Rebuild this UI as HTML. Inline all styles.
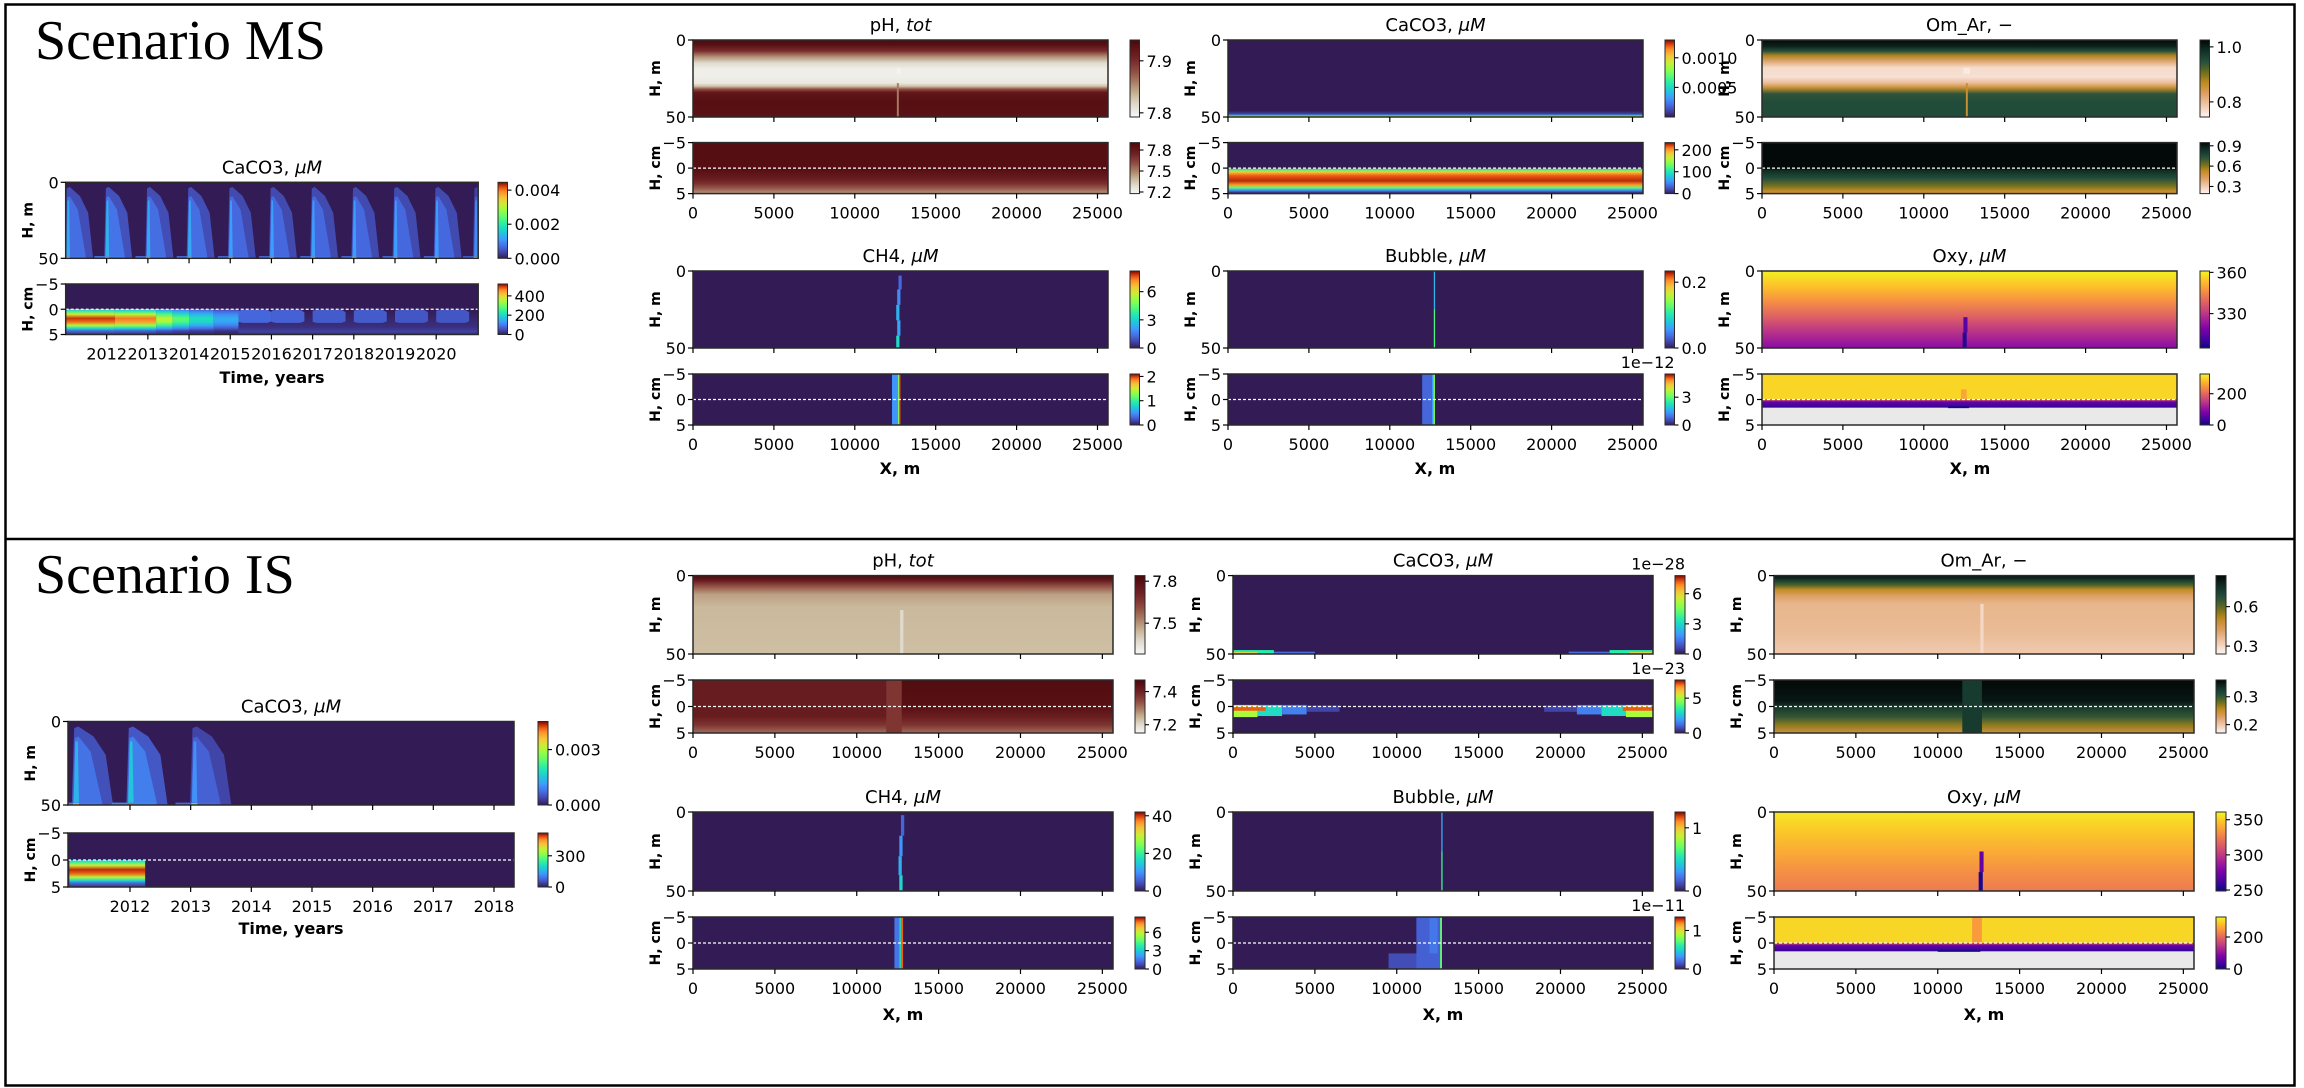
<!DOCTYPE html>
<html><head><meta charset="utf-8"><title>Scenario MS / IS</title>
<style>body{margin:0;background:#fff}svg{display:block}text{font-family:"DejaVu Sans","Liberation Sans",sans-serif}</style></head>
<body>
<svg id="fig" xmlns="http://www.w3.org/2000/svg" width="2304" height="1088" viewBox="0 0 2304 1088">
<rect x="0" y="0" width="2304" height="1088" fill="#fff"/>
<rect x="5.5" y="4.5" width="2289" height="1081" fill="none" stroke="#000" stroke-width="2.5"/>
<line x1="5" y1="539" x2="2295" y2="539" stroke="#000" stroke-width="2.5"/>
<text x="35" y="59" font-size="56" style="font-family:'Liberation Serif',serif">Scenario MS</text>
<text x="35" y="593" font-size="56" style="font-family:'Liberation Serif',serif">Scenario IS</text>
</svg>
<script>
// ---------------- data ----------------
const spatialTicks=[0,5000,10000,15000,20000,25000];
const msYears=[2012,2013,2014,2015,2016,2017,2018,2019,2020];
const isYears=[2012,2013,2014,2015,2016,2017,2018];
// MS left CaCO3 time series
const msPeakYears=[2011.05,2012.0,2013.0,2014.0,2015.0,2016.0,2017.0,2018.0,2019.0,2020.0,2020.95];
const msPeakAmp=[0.0013,0.0014,0.0013,0.0013,0.0012,0.0012,0.0012,0.0012,0.0012,0.0012,0.0010];
const msSedT0=[2011.0,2012.2,2013.2,2013.6,2014.0,2014.6];
const msSedT1=[2012.2,2013.2,2013.6,2014.0,2014.6,2015.2];
const msSedVal=[500,470,360,280,210,150];
const msSedBumpYears=[2015.2,2016.0,2017.0,2018.0,2019.0,2020.0];
const msSedBumpVal=[75,70,65,65,60,60];
const sedProfDepth=[-0.05,0,0.4,1,1.8,2.5,3.2,3.8,4.3,5];
const sedProfFrac=[0,0.3,0.5,0.75,1,0.95,0.7,0.4,0.15,0.05];
// IS left CaCO3
const isPeakYears=[2011.1,2012.0,2013.05];
const isPeakAmp=[0.0014,0.0016,0.0011];
const isSedT0=[2011.0];const isSedT1=[2012.25];const isSedVal=[500];
// MS spatial fields
const msPhWDepth=[0,3,7,11,15,19,24,28,30,32,34,40,50];
const msPhWVal=[7.935,7.93,7.90,7.85,7.815,7.80,7.80,7.805,7.83,7.88,7.92,7.93,7.925];
const msPhSDepth=[-5,0,1,2,3,4,5];
const msPhSVal=[7.86,7.86,7.83,7.78,7.70,7.58,7.45];
const msCaWDepth=[0,46,48,49,49.5,50];
const msCaWVal=[0,0,0.0001,0.0004,0.0008,0.0011];
const msCaSDepth=[-5,0,0.3,0.8,1.5,2.5,3.3,3.8,4.3,4.8,5];
const msCaSVal=[0,0,120,185,215,225,200,130,60,10,0];
const msOmWDepth=[0,4,7,10,14,18,24,28,31,35,40,50];
const msOmWVal=[1.02,1.0,0.95,0.88,0.82,0.77,0.765,0.80,0.86,0.94,0.95,0.95];
const msOmSDepth=[-5,0,0.5,2,3.5,4.5,5];
const msOmSVal=[0.94,0.94,0.85,0.74,0.62,0.52,0.48];
const msCh4WDepth=[0,50];const msCh4WVal=[0,0];
const msCh4WRects=[[12700,12900,3,12,1.2],[12620,12820,12,22,1.8],[12560,12760,22,32,2.4],[12620,12820,32,42,2.2],[12560,12760,42,50,3.2]];
const msCh4SDepth=[-5,5];const msCh4SVal=[0,0];
const msCh4SRects=[[12300,12650,-5,5,0.5],[12650,12700,-5,5,1.0],[12700,12750,-5,5,1.5],[12750,12830,-5,5,2.0]];
const msBubWDepth=[0,50];const msBubWVal=[0,0];
const msBubWRects=[[12720,12800,0,25,0.07],[12720,12800,25,50,0.12]];
const msBubSDepth=[-5,5];const msBubSVal=[0,0];
const msBubSRects=[[12000,12600,-5,5,0.8],[12600,12700,-5,5,1.4],[12700,12790,-5,5,3.3]];
const msOxWDepth=[0,10,20,30,40,50];
const msOxWVal=[360,354,346,338,329,321];
const msOxWRects=[[12450,12700,30,40,314],[12400,12650,40,50,308]];
const msOxSDepth=[-5,-0.1,0,0.5,1.5];
const msOxSVal=[300,300,180,60,30];
const msOxSRects=[[0,25650,1.6,5,null]];
// IS spatial fields
const isPhWDepth=[0,3,7,12,20,50];
const isPhWVal=[7.83,7.75,7.60,7.48,7.44,7.43];
const isPhWRects=[[12650,12850,22,50,7.37]];
const isPhSDepth=[-5,0,2,3.5,5];
const isPhSVal=[7.455,7.445,7.41,7.37,7.31];
const isPhSRects=[[0,11800,-5,1.5,7.415],[11800,12750,-5,5,7.37]];
const isCaWDepth=[0,50];const isCaWVal=[0,0];
const isCaWRects=[[0,2500,47.5,50,3.5],[0,1500,48.8,50,6],[2500,5000,48.5,50,1.2],[20500,23000,48.5,50,1.2],[23000,25650,47.5,50,3.5],[24200,25650,48.8,50,6]];
const isCaSDepth=[-5,5];const isCaSVal=[0,0];
const isCaSRects=[[0,1500,-0.3,2,5],[1500,3000,-0.3,1.8,3],[3000,4500,-0.3,1.5,1.5],[4500,6500,-0.2,1,0.6],[0,2000,0,0.8,7],[19000,21000,-0.2,1,0.6],[21000,22500,-0.3,1.5,1.5],[22500,24000,-0.3,1.8,3],[24000,25650,-0.3,2,5],[23800,25650,0,0.8,7]];
const isOmWDepth=[0,3,6,9,13,18,35,50];
const isOmWVal=[0.82,0.72,0.62,0.50,0.42,0.37,0.36,0.33];
const isOmWRects=[[12600,12800,18,50,0.30]];
const isOmSDepth=[-5,-1,0,2,3.5,5];
const isOmSVal=[0.358,0.35,0.33,0.30,0.27,0.245];
const isOmSRects=[[11500,12700,-5,5,0.325]];
const isCh4WDepth=[0,50];const isCh4WVal=[0,0];
const isCh4WRects=[[12700,12900,2,15,6],[12600,12800,15,28,10],[12550,12750,28,40,12],[12600,12800,40,50,16]];
const isCh4SDepth=[-5,5];const isCh4SVal=[0,0];
const isCh4SRects=[[12300,12600,-5,5,1.5],[12600,12700,-5,5,3.5],[12700,12830,-5,5,7.8]];
const isBubWDepth=[0,50];const isBubWVal=[0,0];
const isBubWRects=[[12720,12800,0,25,0.35],[12720,12800,25,50,0.6]];
const isBubSDepth=[-5,5];const isBubSVal=[0,0];
const isBubSRects=[[9500,12700,2,5,0.13],[11200,12700,-5,5,0.18],[12000,12500,-5,2,0.24],[12650,12760,-5,5,0.75]];
const isOxWDepth=[0,10,25,40,50];
const isOxWVal=[357,350,340,330,325];
const isOxWRects=[[12550,12800,25,38,270],[12500,12750,38,50,252]];
const isOxSDepth=[-5,-0.1,0,0.5,1.5];
const isOxSVal=[300,300,180,60,30];
const isOxSRects=[[0,25650,1.6,5,null]];

// ---------------- colormaps ----------------
const TURBO=[[0,'#331b55'],[0.07,'#4040a0'],[0.15,'#4669e0'],[0.25,'#3e9bfe'],[0.35,'#1ccdd6'],[0.45,'#28ecaa'],[0.55,'#64fd6a'],[0.65,'#a6fc3c'],[0.72,'#d2e935'],[0.8,'#f7c23a'],[0.88,'#fb8d29'],[0.94,'#e5460b'],[1,'#7a0403']];
const PLASMA=[[0,'#0d0887'],[0.13,'#4b03a1'],[0.25,'#7d03a8'],[0.38,'#a82296'],[0.5,'#cb4679'],[0.63,'#e56b5d'],[0.75,'#f89441'],[0.88,'#fdc328'],[1,'#f0f921']];
const PHC=[[0,'#f7f7f5'],[0.15,'#e2ddd2'],[0.3,'#c8b596'],[0.45,'#a87e66'],[0.6,'#8f4a40'],[0.75,'#742628'],[0.9,'#5c1216'],[1,'#4a080a']];
const OMC=[[0,'#fdf5f2'],[0.15,'#f0c9ae'],[0.3,'#dda066'],[0.45,'#c08a1e'],[0.6,'#5e6a22'],[0.72,'#244f3c'],[0.85,'#123429'],[1,'#020606']];
function hx(c){return [parseInt(c.slice(1,3),16),parseInt(c.slice(3,5),16),parseInt(c.slice(5,7),16)];}
function cm(stops){return function(t){t=Math.max(0,Math.min(1,t));let i=0;while(i<stops.length-2&&t>stops[i+1][0])i++;const a=stops[i],b=stops[i+1];const f=(t-a[0])/(b[0]-a[0]);const A=hx(a[1]),B=hx(b[1]);return 'rgb('+A.map((v,k)=>Math.round(v+(B[k]-v)*f)).join(',')+')';};}
const turbo=cm(TURBO),plasma=cm(PLASMA),phc=cm(PHC),omc=cm(OMC);

// ---------------- helpers ----------------
const svg=document.getElementById('fig');
const NS='http://www.w3.org/2000/svg';
let uid=0;
let defs=document.createElementNS(NS,'defs');svg.appendChild(defs);
function mk(tag,attrs,parent,name){const e=document.createElementNS(NS,tag);for(const k in attrs)e.setAttribute(k,attrs[k]);


(parent||svg).appendChild(e);return e;}
function txt(parent,x,y,s,size,anchor,name,extra){const t=mk('text',Object.assign({x:x,y:y,'font-size':size,'text-anchor':anchor||'start'},extra||{}),parent,name);t.textContent=s;return t;}
function vgrad(y0,h,depths,vals,sy,col){const id='g'+(uid++);const lg=document.createElementNS(NS,'linearGradient');lg.setAttribute('id',id);lg.setAttribute('gradientUnits','userSpaceOnUse');lg.setAttribute('x1',0);lg.setAttribute('x2',0);lg.setAttribute('y1',y0);lg.setAttribute('y2',y0+h);
const st=depths.map((d,i)=>[Math.max(0,Math.min(1,(sy(d)-y0)/h)),col(vals[i])]).sort((a,b)=>a[0]-b[0]);
st.forEach(p=>{const s=document.createElementNS(NS,'stop');s.setAttribute('offset',p[0]);s.setAttribute('stop-color',p[1]);lg.appendChild(s);});defs.appendChild(lg);return 'url(#'+id+')';}

function block(P){
  const g=mk('g',{},svg,P.name);
  const sx=v=>P.x+(v-P.xd[0])/(P.xd[1]-P.xd[0])*P.w;
  const sy=d=>P.y+(d-P.yd[0])/(P.yd[1]-P.yd[0])*P.h;
  const col=v=>v===null?'#e9e9e9':P.cmap((v-P.cd[0])/(P.cd[1]-P.cd[0]));
  const cid='c'+(uid++);const cp=document.createElementNS(NS,'clipPath');cp.setAttribute('id',cid);const cr=document.createElementNS(NS,'rect');cr.setAttribute('x',P.x);cr.setAttribute('y',P.y);cr.setAttribute('width',P.w);cr.setAttribute('height',P.h);cp.appendChild(cr);defs.appendChild(cp);
  const f=mk('g',{'clip-path':'url(#'+cid+')'},g,P.name+'-field');
  mk('rect',{x:P.x,y:P.y,width:P.w,height:P.h,fill:vgrad(P.y,P.h,P.depth,P.vals,sy,col)},f,'field-background');
  (P.vgs||[]).forEach(v=>{mk('rect',{x:sx(v[0]),y:P.y,width:sx(v[1])-sx(v[0]),height:P.h,fill:vgrad(P.y,P.h,v[2],v[3],sy,col)},f,'field-band');});
  (P.polys||[]).forEach(p=>{mk('polygon',{points:p[0].map(q=>sx(q[0])+','+sy(q[1])).join(' '),fill:col(p[1])},f,'field-contour');});
  (P.rects||[]).forEach(r=>{mk('rect',{x:sx(r[0]),y:sy(r[2]),width:Math.max(1.2,sx(r[1])-sx(r[0])),height:sy(r[3])-sy(r[2]),fill:col(r[4])},f,'field-cell');});
  if(P.kind==='sed') mk('line',{x1:P.x,x2:P.x+P.w,y1:sy(0),y2:sy(0),stroke:'#fff','stroke-width':1.3,'stroke-dasharray':'3,2'},g,'sediment-surface-line');
  mk('rect',{x:P.x,y:P.y,width:P.w,height:P.h,fill:'none',stroke:'#2a2a2a','stroke-width':1.5},g,'axes-frame');
  const yt=P.kind==='sed'?[-5,0,5]:[0,50];
  yt.forEach(v=>{mk('line',{x1:P.x-5,x2:P.x,y1:sy(v),y2:sy(v),stroke:'#000','stroke-width':1.2},g,'y-tick');txt(g,P.x-7,sy(v)+6,v<0?'\u2212'+(-v):String(v),16,'end','y-tick-label');});
  txt(g,0,0,P.kind==='sed'?'H, cm':'H, m',14,'middle','y-axis-title',{'font-weight':'bold',transform:'translate('+(P.x-33)+','+(P.y+P.h/2)+') rotate(-90)'});
  P.xt.forEach(v=>{mk('line',{x1:sx(v),x2:sx(v),y1:P.y+P.h,y2:P.y+P.h+5,stroke:'#000','stroke-width':1.2},g,'x-tick');if(P.xlab)txt(g,sx(v),P.y+P.h+25,String(v),16,'middle','x-tick-label');});
  if(P.title){const t=txt(g,P.x+P.w/2,P.y-9,P.title[0],18,'middle','panel-title');if(P.title[1]){const ts=document.createElementNS(NS,'tspan');ts.setAttribute('font-style','italic');ts.textContent=P.title[1];t.appendChild(ts);}}
  const cb=mk('g',{},svg,P.name+'-colorbar');
  const cbw=P.cbw||9.5;
  const cy=v=>P.y+P.h-(v-P.cd[0])/(P.cd[1]-P.cd[0])*P.h;
  const cvs=[];for(let i=0;i<=24;i++){cvs.push(P.cd[0]+(P.cd[1]-P.cd[0])*i/24);}
  mk('rect',{x:P.cbx,y:P.y,width:cbw,height:P.h,fill:vgrad(P.y,P.h,cvs,cvs,cy,col),stroke:'#2a2a2a','stroke-width':1},cb,'colorbar-gradient');
  P.ct.forEach((v,i)=>{mk('line',{x1:P.cbx+cbw,x2:P.cbx+cbw+4,y1:cy(v),y2:cy(v),stroke:'#000','stroke-width':1.1},cb,'colorbar-tick');txt(cb,P.cbx+cbw+7,cy(v)+6,P.cl[i],16,'start','colorbar-tick-label');});
  if(P.offset)txt(cb,P.cbx+cbw,P.y-6,P.offset,16,'end','colorbar-offset-label');
  return {sx,sy,g};
}
function peakPolys(years,amps){const out=[];years.forEach((t,i)=>{const a=amps[i];
 out.push([[[t-0.06,50],[t-0.02,4],[t+0.05,3],[t+0.3,9],[t+0.5,20],[t+0.62,50]],a*0.33]);
 out.push([[[t-0.04,50],[t-0.01,10],[t+0.05,9],[t+0.25,18],[t+0.45,50]],a*0.55]);
 out.push([[[t-0.03,50],[t,12],[t+0.04,12],[t+0.06,50]],a*0.95]);
 out.push([[[t-0.3,50],[t-0.3,48.6],[t+0.4,48.6],[t+0.4,50]],a*0.6]);
 out.push([[[t-0.04,50],[t-0.04,49],[t+0.06,49],[t+0.06,50]],a*2.6]);});return out;}
function sedBands(t0,t1,vals){return t0.map((t,i)=>[t,t1[i],[-5].concat(sedProfDepth),[0].concat(sedProfFrac.map(f=>f*vals[i]))]);}
function bumps(years,vals){return years.map((t,i)=>[[[t,0.3],[t+0.1,0.1],[t+0.7,0.1],[t+0.8,0.6],[t+0.8,2.4],[t+0.7,2.7],[t+0.1,2.7],[t,2.5]],vals[i]]);}

const XD=[0,25650];
// ---------------- MS ----------------
const MSX=[693,1228,1762],MSCB=[1130,1665,2200],MSW=415;
const msR=[[40,77,142.6,51],[271,77,374,51]];
function msBlock(o){return block(Object.assign({xd:XD,xt:spatialTicks,w:MSW},o));}
msBlock({name:'ms-ph-water',kind:'water',x:MSX[0],y:msR[0][0],h:msR[0][1],yd:[0,50],cmap:phc,cd:[7.792,7.94],depth:msPhWDepth,vals:msPhWVal,rects:[[12600,12850,18,22,7.795],[12600,12720,28,50,7.86]],cbx:MSCB[0],ct:[7.8,7.9],cl:['7.8','7.9'],title:['pH, ','tot']});
msBlock({name:'ms-ph-sediment',kind:'sed',x:MSX[0],y:msR[0][2],h:msR[0][3],yd:[-5,5],cmap:phc,cd:[7.177,7.906],depth:msPhSDepth,vals:msPhSVal,cbx:MSCB[0],ct:[7.2,7.5,7.8],cl:['7.2','7.5','7.8'],xlab:true});
msBlock({name:'ms-caco3-water',kind:'water',x:MSX[1],y:msR[0][0],h:msR[0][1],yd:[0,50],cmap:turbo,cd:[0,0.0013],depth:msCaWDepth,vals:msCaWVal,cbx:MSCB[1],ct:[0.0005,0.001],cl:['0.0005','0.0010'],title:['CaCO3, ','\u03bcM']});
msBlock({name:'ms-caco3-sediment',kind:'sed',x:MSX[1],y:msR[0][2],h:msR[0][3],yd:[-5,5],cmap:turbo,cd:[0,233],depth:msCaSDepth,vals:msCaSVal,cbx:MSCB[1],ct:[0,100,200],cl:['0','100','200'],xlab:true});
msBlock({name:'ms-omar-water',kind:'water',x:MSX[2],y:msR[0][0],h:msR[0][1],yd:[0,50],cmap:omc,cd:[0.745,1.025],depth:msOmWDepth,vals:msOmWVal,rects:[[12450,12850,18,22,0.755],[12600,12720,28,50,0.86]],cbx:MSCB[2],ct:[0.8,1.0],cl:['0.8','1.0'],title:['Om_Ar, \u2212']});
msBlock({name:'ms-omar-sediment',kind:'sed',x:MSX[2],y:msR[0][2],h:msR[0][3],yd:[-5,5],cmap:omc,cd:[0.195,0.947],depth:msOmSDepth,vals:msOmSVal,cbx:MSCB[2],ct:[0.3,0.6,0.9],cl:['0.3','0.6','0.9'],xlab:true});
msBlock({name:'ms-ch4-water',kind:'water',x:MSX[0],y:msR[1][0],h:msR[1][1],yd:[0,50],cmap:turbo,cd:[0,8.2],depth:msCh4WDepth,vals:msCh4WVal,rects:msCh4WRects,cbx:MSCB[0],ct:[0,3,6],cl:['0','3','6'],title:['CH4, ','\u03bcM']});
msBlock({name:'ms-ch4-sediment',kind:'sed',x:MSX[0],y:msR[1][2],h:msR[1][3],yd:[-5,5],cmap:turbo,cd:[0,2.1],depth:msCh4SDepth,vals:msCh4SVal,rects:msCh4SRects,cbx:MSCB[0],ct:[0,1,2],cl:['0','1','2'],xlab:true});
msBlock({name:'ms-bubble-water',kind:'water',x:MSX[1],y:msR[1][0],h:msR[1][1],yd:[0,50],cmap:turbo,cd:[0,0.234],depth:msBubWDepth,vals:msBubWVal,rects:msBubWRects,cbx:MSCB[1],ct:[0,0.2],cl:['0.0','0.2'],title:['Bubble, ','\u03bcM']});
msBlock({name:'ms-bubble-sediment',kind:'sed',x:MSX[1],y:msR[1][2],h:msR[1][3],yd:[-5,5],cmap:turbo,cd:[0,5.5],depth:msBubSDepth,vals:msBubSVal,rects:msBubSRects,cbx:MSCB[1],ct:[0,3],cl:['0','3'],xlab:true,offset:'1e\u221212'});
msBlock({name:'ms-oxy-water',kind:'water',x:MSX[2],y:msR[1][0],h:msR[1][1],yd:[0,50],cmap:plasma,cd:[305,361],depth:msOxWDepth,vals:msOxWVal,rects:msOxWRects,cbx:MSCB[2],ct:[330,360],cl:['330','360'],title:['Oxy, ','\u03bcM']});
msBlock({name:'ms-oxy-sediment',kind:'sed',x:MSX[2],y:msR[1][2],h:msR[1][3],yd:[-5,5],cmap:plasma,cd:[0,326],depth:msOxSDepth,vals:msOxSVal,rects:msOxSRects.concat([[12300,12650,-2,0,260],[11500,12800,1.3,1.7,10]]),cbx:MSCB[2],ct:[0,200],cl:['0','200'],xlab:true});
block({name:'ms-caco3-time-water',kind:'water',x:65.7,y:182.3,w:412.5,h:76,xd:[2011.005,2021.02],xt:msYears,yd:[0,50],cmap:turbo,cd:[0,0.00446],depth:[0,50],vals:[0,0],polys:peakPolys(msPeakYears,msPeakAmp),cbx:498,ct:[0,0.002,0.004],cl:['0.000','0.002','0.004'],title:['CaCO3, ','\u03bcM']});
block({name:'ms-caco3-time-sediment',kind:'sed',x:65.7,y:284,w:412.5,h:50.5,xd:[2011.005,2021.02],xt:msYears,yd:[-5,5],cmap:turbo,cd:[0,523],depth:[-5,0,3.5,4.5,5],vals:[0,0,20,40,10],vgs:sedBands(msSedT0,msSedT1,msSedVal),polys:bumps(msSedBumpYears,msSedBumpVal),cbx:498,ct:[0,200,400],cl:['0','200','400'],xlab:true});
// ---------------- IS ----------------
const ISX=[693,1233,1774],ISCB=[1135,1675,2216],ISW=420;
const isR=[[575.6,78.4,680,53],[812,79,917,52]];
function isBlock(o){return block(Object.assign({xd:XD,xt:spatialTicks,w:ISW,cbw:10},o));}
isBlock({name:'is-ph-water',kind:'water',x:ISX[0],y:isR[0][0],h:isR[0][1],yd:[0,50],cmap:phc,cd:[7.28,7.84],depth:isPhWDepth,vals:isPhWVal,rects:isPhWRects,cbx:ISCB[0],ct:[7.5,7.8],cl:['7.5','7.8'],title:['pH, ','tot']});
isBlock({name:'is-ph-sediment',kind:'sed',x:ISX[0],y:isR[0][2],h:isR[0][3],yd:[-5,5],cmap:phc,cd:[7.15,7.47],depth:isPhSDepth,vals:isPhSVal,rects:isPhSRects,cbx:ISCB[0],ct:[7.2,7.4],cl:['7.2','7.4'],xlab:true});
isBlock({name:'is-caco3-water',kind:'water',x:ISX[1],y:isR[0][0],h:isR[0][1],yd:[0,50],cmap:turbo,cd:[0,7.8],depth:isCaWDepth,vals:isCaWVal,rects:isCaWRects,cbx:ISCB[1],ct:[0,3,6],cl:['0','3','6'],title:['CaCO3, ','\u03bcM'],offset:'1e\u221228'});
isBlock({name:'is-caco3-sediment',kind:'sed',x:ISX[1],y:isR[0][2],h:isR[0][3],yd:[-5,5],cmap:turbo,cd:[0,7.6],depth:isCaSDepth,vals:isCaSVal,rects:isCaSRects,cbx:ISCB[1],ct:[0,5],cl:['0','5'],xlab:true,offset:'1e\u221223'});
isBlock({name:'is-omar-water',kind:'water',x:ISX[2],y:isR[0][0],h:isR[0][1],yd:[0,50],cmap:omc,cd:[0.24,0.836],depth:isOmWDepth,vals:isOmWVal,rects:isOmWRects,cbx:ISCB[2],ct:[0.3,0.6],cl:['0.3','0.6'],title:['Om_Ar, \u2212']});
isBlock({name:'is-omar-sediment',kind:'sed',x:ISX[2],y:isR[0][2],h:isR[0][3],yd:[-5,5],cmap:omc,cd:[0.17,0.36],depth:isOmSDepth,vals:isOmSVal,rects:isOmSRects,cbx:ISCB[2],ct:[0.2,0.3],cl:['0.2','0.3'],xlab:true});
isBlock({name:'is-ch4-water',kind:'water',x:ISX[0],y:isR[1][0],h:isR[1][1],yd:[0,50],cmap:turbo,cd:[0,42],depth:isCh4WDepth,vals:isCh4WVal,rects:isCh4WRects,cbx:ISCB[0],ct:[0,20,40],cl:['0','20','40'],title:['CH4, ','\u03bcM']});
isBlock({name:'is-ch4-sediment',kind:'sed',x:ISX[0],y:isR[1][2],h:isR[1][3],yd:[-5,5],cmap:turbo,cd:[0,8.5],depth:isCh4SDepth,vals:isCh4SVal,rects:isCh4SRects,cbx:ISCB[0],ct:[0,3,6],cl:['0','3','6'],xlab:true});
isBlock({name:'is-bubble-water',kind:'water',x:ISX[1],y:isR[1][0],h:isR[1][1],yd:[0,50],cmap:turbo,cd:[0,1.25],depth:isBubWDepth,vals:isBubWVal,rects:isBubWRects,cbx:ISCB[1],ct:[0,1],cl:['0','1'],title:['Bubble, ','\u03bcM']});
isBlock({name:'is-bubble-sediment',kind:'sed',x:ISX[1],y:isR[1][2],h:isR[1][3],yd:[-5,5],cmap:turbo,cd:[0,1.35],depth:isBubSDepth,vals:isBubSVal,rects:isBubSRects,cbx:ISCB[1],ct:[0,1],cl:['0','1'],xlab:true,offset:'1e\u221211'});
isBlock({name:'is-oxy-water',kind:'water',x:ISX[2],y:isR[1][0],h:isR[1][1],yd:[0,50],cmap:plasma,cd:[248.6,361],depth:isOxWDepth,vals:isOxWVal,rects:isOxWRects,cbx:ISCB[2],ct:[250,300,350],cl:['250','300','350'],title:['Oxy, ','\u03bcM']});
isBlock({name:'is-oxy-sediment',kind:'sed',x:ISX[2],y:isR[1][2],h:isR[1][3],yd:[-5,5],cmap:plasma,cd:[0,325],depth:isOxSDepth,vals:isOxSVal,rects:isOxSRects.concat([[12100,12700,-5,0,250],[10000,12600,1.3,1.7,10]]),cbx:ISCB[2],ct:[0,200],cl:['0','200'],xlab:true});
block({name:'is-caco3-time-water',kind:'water',x:68,y:721.5,w:446,h:83.5,xd:[2010.978,2018.33],xt:isYears,yd:[0,50],cmap:turbo,cd:[0,0.00452],depth:[0,50],vals:[0,0],polys:peakPolys(isPeakYears,isPeakAmp),cbx:538,cbw:10,ct:[0,0.003],cl:['0.000','0.003'],title:['CaCO3, ','\u03bcM']});
block({name:'is-caco3-time-sediment',kind:'sed',x:68,y:833,w:446,h:54,xd:[2010.978,2018.33],xt:isYears,yd:[-5,5],cmap:turbo,cd:[0,519],depth:[-5,5],vals:[0,0],vgs:sedBands(isSedT0,isSedT1,isSedVal),cbx:538,cbw:10,ct:[0,300],cl:['0','300'],xlab:true});
[[900,474],[1435,474],[1970,474],[903,1020],[1443,1020],[1984,1020]].forEach(p=>{txt(svg,p[0],p[1],'X, m',16,'middle','x-axis-title',{'font-weight':'bold'});});
txt(svg,272,383,'Time, years',16,'middle','x-axis-title-time',{'font-weight':'bold'});
txt(svg,291,934,'Time, years',16,'middle','x-axis-title-time',{'font-weight':'bold'});
</script>
</body></html>
